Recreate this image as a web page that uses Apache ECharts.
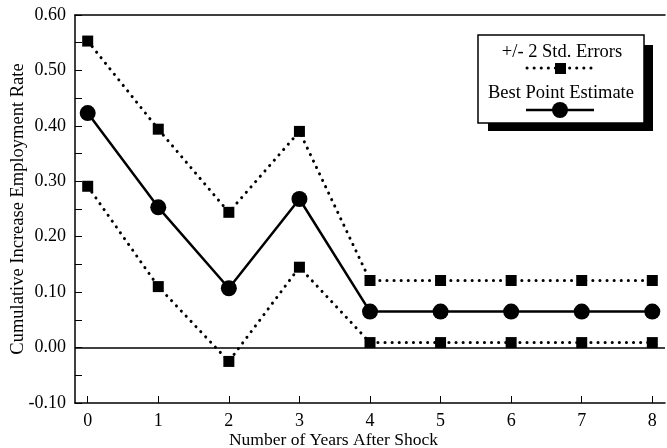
<!DOCTYPE html>
<html><head><meta charset="utf-8">
<script src="https://cdn.jsdelivr.net/npm/echarts@6/dist/echarts.min.js"></script>
<style>html,body{margin:0;padding:0;background:#fff}#c{width:667px;height:448px}</style>
</head><body><div id="c"></div>
<script>
const years = [0, 1, 2, 3, 4, 5, 6, 7, 8];
const upperBand = [0.553, 0.394, 0.244, 0.390, 0.121, 0.121, 0.121, 0.121, 0.121];
const bestEstimate = [0.423, 0.253, 0.107, 0.268, 0.065, 0.065, 0.065, 0.065, 0.065];
const lowerBand = [0.291, 0.110, -0.025, 0.145, 0.009, 0.009, 0.009, 0.009, 0.009];
const yTicks = [-0.10, 0.00, 0.10, 0.20, 0.30, 0.40, 0.50, 0.60];
const yMinorTicks = [-0.10,-0.05,0.00,0.05,0.10,0.15,0.20,0.25,0.30,0.35,0.40,0.45,0.50,0.55,0.60];

const font = '"Liberation Serif", "DejaVu Serif", serif';
const pair = (xs, ys) => xs.map((x, i) => [x, ys[i]]);
const dotted = { color: '#000', width: 3, type: [0.1, 7], cap: 'round' };

const chart = echarts.init(document.getElementById('c'));
chart.setOption({
  animation: false,
  backgroundColor: '#fff',
  textStyle: { fontFamily: font, color: '#000' },
  grid: { left: 75, right: 2, top: 15, bottom: 45, containLabel: false, outerBoundsMode: 'none' },
  title: {
    text: 'Number of Years After Shock', left: 'center', bottom: -1, padding: 0,
    textStyle: { fontFamily: font, fontSize: 17.5, fontWeight: 'normal', color: '#000' }
  },
  xAxis: [{
    type: 'value', min: -0.18, max: 8.18,
    axisLine: { show: true, onZero: false, lineStyle: { color: '#000', width: 1.5 } },
    axisTick: { show: true, inside: true, length: 7, customValues: years, lineStyle: { color: '#000', width: 1 } },
    axisLabel: { customValues: years, color: '#000', fontFamily: font, fontSize: 18, margin: 9 },
    splitLine: { show: false }
  }, {
    type: 'value', min: -0.18, max: 8.18, position: 'top',
    axisLine: { show: true, onZero: false, lineStyle: { color: '#000', width: 1.5 } },
    axisTick: { show: false }, axisLabel: { show: false }, splitLine: { show: false }
  }],
  yAxis: {
    type: 'value', min: -0.1, max: 0.6, interval: 0.1,
    name: 'Cumulative Increase Employment Rate', nameLocation: 'middle', nameGap: 47,
    nameMoveOverlap: false,
    nameTextStyle: { fontFamily: font, fontSize: 18.5, color: '#000' },
    axisLine: { show: true, onZero: false, lineStyle: { color: '#000', width: 1.5 } },
    axisTick: { show: true, inside: true, length: 7, customValues: yMinorTicks, lineStyle: { color: '#000', width: 1 } },
    axisLabel: { customValues: yTicks, color: '#000', fontFamily: font, fontSize: 18, margin: 9,
      formatter: v => v.toFixed(2) },
    splitLine: { show: false }
  },
  series: [{
    type: 'line', data: pair(years, upperBand),
    symbol: 'rect', symbolSize: 11, itemStyle: { color: '#000' }, lineStyle: dotted, z: 3
  }, {
    type: 'line', data: pair(years, lowerBand),
    symbol: 'rect', symbolSize: 11, itemStyle: { color: '#000' }, lineStyle: dotted, z: 3,
    markLine: {
      silent: true, symbol: 'none', label: { show: false },
      lineStyle: { color: '#000', width: 1.5, type: 'solid' },
      data: [{ yAxis: 0 }]
    }
  }, {
    type: 'line', data: pair(years, bestEstimate),
    symbol: 'circle', symbolSize: 16, itemStyle: { color: '#000' },
    lineStyle: { color: '#000', width: 2.5 }, z: 4
  }],
  graphic: [
    { type: 'rect', shape: { x: 488, y: 45, width: 165, height: 86 }, style: { fill: '#000' }, z: 10 },
    { type: 'rect', shape: { x: 478, y: 35, width: 166, height: 88 }, style: { fill: '#fff', stroke: '#000', lineWidth: 1.5 }, z: 11 },
    { type: 'text', x: 562, y: 52, style: { text: '+/- 2 Std. Errors', font: '18.5px ' + font, fill: '#000', align: 'center', verticalAlign: 'middle' }, z: 12 },
    { type: 'line', shape: { x1: 527, y1: 68, x2: 594, y2: 68 }, style: { stroke: '#000', lineWidth: 3, lineDash: [0.1, 7], lineCap: 'round' }, z: 12 },
    { type: 'rect', shape: { x: 555, y: 63, width: 11, height: 11 }, style: { fill: '#000' }, z: 13 },
    { type: 'text', x: 561, y: 93, style: { text: 'Best Point Estimate', font: '18.5px ' + font, fill: '#000', align: 'center', verticalAlign: 'middle' }, z: 12 },
    { type: 'line', shape: { x1: 526, y1: 110, x2: 594, y2: 110 }, style: { stroke: '#000', lineWidth: 2.5 }, z: 12 },
    { type: 'circle', shape: { cx: 560, cy: 110, r: 8 }, style: { fill: '#000' }, z: 13 }
  ]
});
</script></body></html>
